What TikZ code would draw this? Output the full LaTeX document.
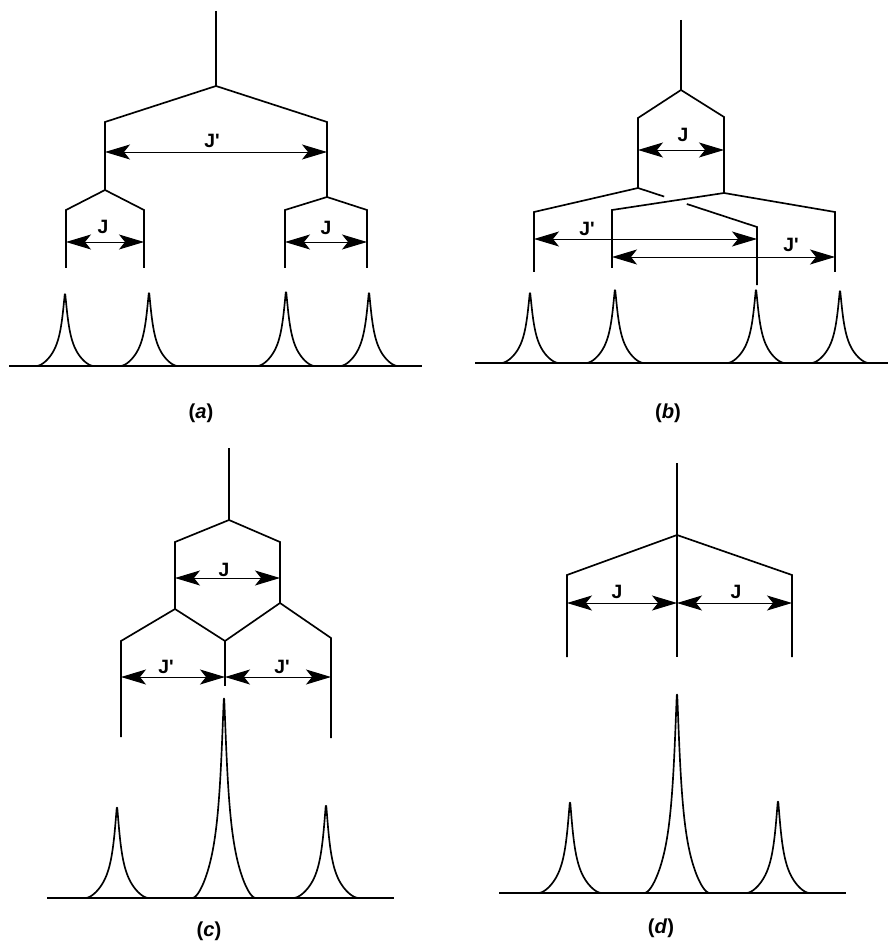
\documentclass[tikz,border=0pt]{standalone}
\usepackage{fontspec}
\setmainfont{Liberation Sans}
\usepackage{tikz}
\usetikzlibrary{arrows.meta,calc}

\begin{document}
\begin{tikzpicture}[
    x=0.02cm, y=-0.02cm,
    tree/.style={line width=0.95pt},
    spec/.style={line width=0.95pt, line join=round},
    dim/.style={line width=0.55pt, {Stealth[length=5mm, width=3mm, inset=1.2mm]}-{Stealth[length=5mm, width=3mm, inset=1.2mm]}},
    lab/.style={font=\fontsize{11}{12}\selectfont\bfseries, inner sep=0pt},
    paneltag/.style={font=\fontsize{11.5}{13}\selectfont\bfseries, inner sep=0pt}
  ]
  \useasboundingbox (0,0) rectangle (888,942);

  % panel (a)
  \coordinate (a0) at (216,11);
  \coordinate (a1) at (216,86);
  \coordinate (aL) at (105,122);
  \coordinate (aR) at (327,122);
  \coordinate (aLs) at (105,190);
  \coordinate (aRs) at (327,197);
  \coordinate (aLL) at (66,210);
  \coordinate (aLR) at (144,210);
  \coordinate (aRL) at (285,210);
  \coordinate (aRR) at (367,210);
  \coordinate (aLLb) at (66,268);
  \coordinate (aLRb) at (144,268);
  \coordinate (aRLb) at (285,268);
  \coordinate (aRRb) at (367,268);
  \draw[tree] (a0) -- (a1);
  \draw[tree] (aLs) -- (aL) -- (a1) -- (aR) -- (aRs);
  \draw[tree] (aLLb) -- (aLL) -- (aLs) -- (aLR) -- (aLRb);
  \draw[tree] (aRLb) -- (aRL) -- (aRs) -- (aRR) -- (aRRb);
  \draw[dim] (aL |- 0,152) -- (aR |- 0,152);
  \draw[dim] (aLL |- 0,242) -- (aLR |- 0,242);
  \draw[dim] (aRL |- 0,242) -- (aRR |- 0,242);
  \node[lab] (aJp) at (212,141) {J\textquotesingle};
  \node[lab] (aJ1) at (103,227) {J};
  \node[lab] (aJ2) at (326,228) {J};
  \draw[spec] (9,366) -- (422,366);
  \node[paneltag] (taga) at (201,413) {(\textit{a})};

  % panel (b)
  \coordinate (b0) at (681,20);
  \coordinate (b1) at (681,90);
  \coordinate (bL) at (638,118);
  \coordinate (bR) at (724,117);
  \coordinate (bLs) at (638,188);
  \coordinate (bRs) at (724,193);
  \coordinate (bLL) at (534,212);
  \coordinate (bLR) at (757,227);
  \coordinate (bRL) at (612,210);
  \coordinate (bRR) at (835,212);
  \coordinate (bLLb) at (534,272);
  \coordinate (bLRb) at (757,285);
  \coordinate (bRLb) at (612,268);
  \coordinate (bRRb) at (835,272);
  \draw[tree] (b0) -- (b1);
  \draw[tree] (bLs) -- (bL) -- (b1) -- (bR) -- (bRs);
  \draw[tree] (bLLb) -- (bLL) -- (bLs) -- ($(bLs)!0.22!(bLR)$);
  \draw[tree] ($(bLs)!0.41!(bLR)$) -- (bLR) -- (bLRb);
  \draw[tree] (bRLb) -- (bRL) -- (bRs) -- (bRR) -- (bRRb);
  \draw[dim] (bL |- 0,150) -- (bR |- 0,150);
  \draw[dim] (bLL |- 0,239) -- (bLR |- 0,239);
  \draw[dim] (bRL |- 0,257) -- (bRR |- 0,257);
  \node[lab] (bJ) at (683,135) {J};
  \node[lab] (bJp1) at (587,229) {J\textquotesingle};
  \node[lab] (bJp2) at (791,245) {J\textquotesingle};
  \draw[spec] (475,363) -- (888,363);
  \node[paneltag] (tagb) at (668,413) {(\textit{b})};

  % panel (c)
  \coordinate (c0) at (229,448);
  \coordinate (c1) at (229,520);
  \coordinate (cL) at (175,542);
  \coordinate (cR) at (280,542);
  \coordinate (cLs) at (175,609);
  \coordinate (cRs) at (280,603);
  \coordinate (cLL) at (121,641);
  \coordinate (cM) at (225,641);
  \coordinate (cRR) at (331,638);
  \coordinate (cLLb) at (121,737);
  \coordinate (cMb) at (225,686);
  \coordinate (cRRb) at (331,738);
  \draw[tree] (c0) -- (c1);
  \draw[tree] (cLs) -- (cL) -- (c1) -- (cR) -- (cRs);
  \draw[tree] (cLLb) -- (cLL) -- (cLs) -- (cM) -- (cRs) -- (cRR) -- (cRRb);
  \draw[tree] (cM) -- (cMb);
  \draw[dim] (cL |- 0,578) -- (cR |- 0,578);
  \draw[dim] (cLL |- 0,677) -- (cM |- 0,677);
  \draw[dim] (cM |- 0,677) -- (cRR |- 0,677);
  \node[lab] (cJ) at (224,570) {J};
  \node[lab] (cJp1) at (166,667) {J\textquotesingle};
  \node[lab] (cJp2) at (282,667) {J\textquotesingle};
  \draw[spec] (47,898) -- (394,898);
  \node[paneltag] (tagc) at (209,931) {(\textit{c})};

  % panel (d)
  \coordinate (d0) at (677,463);
  \coordinate (d1) at (677,535);
  \coordinate (dL) at (567,575);
  \coordinate (dR) at (792,575);
  \coordinate (dMb) at (677,657);
  \coordinate (dLb) at (567,657);
  \coordinate (dRb) at (792,657);
  \draw[tree] (d0) -- (dMb);
  \draw[tree] (dLb) -- (dL) -- (d1) -- (dR) -- (dRb);
  \draw[dim] (dL |- 0,603) -- (d1 |- 0,603);
  \draw[dim] (d1 |- 0,603) -- (dR |- 0,603);
  \node[lab] (dJ1) at (617,592) {J};
  \node[lab] (dJ2) at (736,592) {J};
  \draw[spec] (499,893) -- (846,893);
  \node[paneltag] (tagd) at (661,928) {(\textit{d})};

  % spectral lines: x / top / baseline / half width / tail
  \foreach \px/\pt/\pb/\pw/\pl in {65/293/366/4.6/29, 149/292/366/4.6/29, 286/291/366/4.6/29, 369/292/366/4.6/29,
      530/292/363/4.6/29, 615/289/363/4.6/29, 756/289/363/4.6/29, 840/290/363/4.6/29,
      117/806/898/4.8/32, 224/696/898/5/32, 326/804/898/4.8/33,
      570/801/893/4.8/32, 677/692/893/5/33, 778/800/893/4.8/32}
    \draw[spec] plot[domain={-\pl}:{\pl}, samples=140, smooth]
      ({\px+\x}, {\pb-(\pb-\pt)/(1+exp(1.3*ln(abs(\x)/\pw)))*(1-(abs(\x)/\pl)^3)*(1-(abs(\x)/\pl)^3)});
\end{tikzpicture}
\end{document}
